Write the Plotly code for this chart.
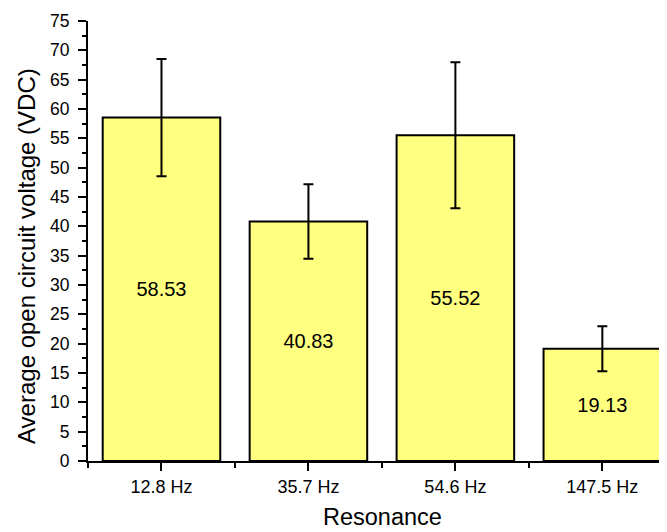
import plotly.graph_objects as go

categories = ["12.8 Hz", "35.7 Hz", "54.6 Hz", "147.5 Hz"]
values = [58.53, 40.83, 55.52, 19.13]
errors = [10.0, 6.35, 12.45, 3.85]
labels = ["58.53", "40.83", "55.52", "19.13"]
x_title = "Resonance"
y_title = "Average open circuit voltage (VDC)"

FONT = "Liberation Sans, Arial, sans-serif"
xpos = list(range(len(categories)))

fig = go.Figure(go.Bar(
    x=xpos, y=values, width=0.8,
    marker=dict(color="#FFFF80", line=dict(color="black", width=2)),
    error_y=dict(type="data", array=errors, visible=True, color="black", thickness=2, width=5),
    text=labels, textposition="inside", insidetextanchor="middle",
    textfont=dict(family=FONT, size=20, color="black"),
    textangle=0,
))

# page body has an 8px default margin; size the figure to fit the 667x532 window
fig.update_layout(
    width=659, height=524,
    margin=dict(l=80, r=0, t=13, b=71, autoexpand=False),
    plot_bgcolor="white", paper_bgcolor="white",
    font=dict(family=FONT, size=18, color="black"),
    showlegend=False,
    annotations=[
        dict(text=x_title, xref="paper", yref="paper", x=0.508, y=0,
             xanchor="center", yanchor="bottom", yshift=-70, showarrow=False,
             font=dict(size=23.5), borderpad=0),
        dict(text=y_title, xref="paper", yref="paper", x=0, y=0.466,
             xanchor="center", yanchor="middle", xshift=-61, textangle=-90,
             showarrow=False, font=dict(size=24)),
    ],
)
fig.update_xaxes(
    range=[-0.5, 3.44], tickvals=xpos, ticktext=categories,
    showline=True, linecolor="black", linewidth=2,
    ticks="outside", ticklen=8, tickwidth=2, tickcolor="black",
    minor=dict(tick0=0.5, dtick=1, ticks="outside", ticklen=5, tickwidth=2, tickcolor="black"),
    showgrid=False, zeroline=False, automargin=False,
    tickfont=dict(size=18),
)
fig.update_yaxes(
    range=[0, 75], dtick=5, tick0=0,
    showline=True, linecolor="black", linewidth=2,
    ticks="outside", ticklen=8, tickwidth=2, tickcolor="black",
    minor=dict(dtick=2.5, ticks="outside", ticklen=4, tickwidth=1.5, tickcolor="black"),
    showgrid=False, zeroline=False, automargin=False,
    tickfont=dict(size=17.5), ticklabelstandoff=5,
)

fig.write_html("out.html")
